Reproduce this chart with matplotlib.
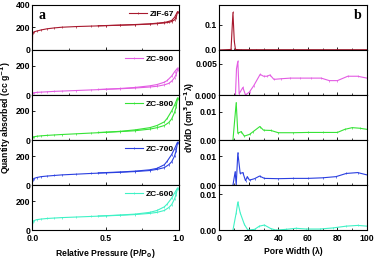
import numpy as np
import matplotlib
matplotlib.use('Agg')
import matplotlib.pyplot as plt
from matplotlib.ticker import MultipleLocator, FormatStrFormatter

plt.rcParams['font.family'] = ['Liberation Sans', 'DejaVu Sans']
plt.rcParams['font.weight'] = 'bold'
plt.rcParams['axes.linewidth'] = 0.8

samples = ['ZIF-67', 'ZC-900', 'ZC-800', 'ZC-700', 'ZC-600']
colors = ['#a8192e', '#e35ce3', '#36e336', '#2a3fe0', '#3ff2c6']

# isotherms (panel a)
p_ads = [0.0, 0.002, 0.01, 0.03, 0.06, 0.1, 0.15, 0.2, 0.3, 0.4, 0.5, 0.6, 0.7,
         0.8, 0.85, 0.9, 0.93, 0.95, 0.97, 0.98, 0.99]
p_des = [0.99, 0.97, 0.95, 0.92, 0.9, 0.85, 0.8, 0.7, 0.6, 0.5, 0.45]
q_ads = {
    'ZIF-67': [0, 150, 160, 168, 178, 188, 196, 202, 208, 212, 216, 220, 224, 230, 234, 240, 246, 252, 268, 285, 335],
    'ZC-900': [0, 12, 15, 18, 20, 22, 25, 27, 31, 35, 39, 43, 48, 55, 60, 70, 80, 95, 120, 140, 175],
    'ZC-800': [0, 18, 22, 26, 29, 32, 35, 38, 43, 48, 53, 58, 64, 75, 85, 100, 120, 145, 190, 225, 285],
    'ZC-700': [0, 35, 45, 52, 58, 62, 66, 70, 75, 80, 84, 88, 93, 100, 108, 120, 140, 160, 200, 235, 290],
    'ZC-600': [0, 55, 65, 72, 76, 80, 83, 86, 90, 94, 98, 102, 107, 115, 122, 135, 155, 175, 215, 245, 285],
}
q_des = {
    'ZIF-67': [340, 290, 262, 250, 245, 238, 232, 226, 221, 217, 215],
    'ZC-900': [185, 160, 130, 100, 88, 72, 63, 52, 45, 40, 38],
    'ZC-800': [290, 240, 200, 150, 125, 100, 85, 70, 60, 54, 52],
    'ZC-700': [295, 250, 210, 165, 140, 115, 105, 96, 90, 86, 84],
    'ZC-600': [290, 255, 220, 180, 160, 135, 122, 110, 104, 99, 97],
}
a_ylim = [400, 310, 310, 310, 310]
a_yticks = [[0, 200, 400], [0, 200], [0, 200], [0, 200], [0, 200]]

# pore size distributions (panel b)
w_zif = [0, 8, 9.3, 10.2, 11, 15, 20, 25, 30, 40, 50, 60, 70, 80, 90, 100]
v_zif = [0, 0.002, 0.15, 0.035, 0.002, 0.001, 0.001, 0.001, 0.001, 0.001, 0.001, 0.001, 0.001, 0.001, 0.001, 0.001]
w_900 = [11, 11.7, 12.6, 13.5, 16, 17.8, 20.5, 23.4, 27.7, 30, 32.4, 34.4, 37, 42, 48, 55, 62, 69, 74.5, 80, 87, 93.7, 100]
v_900 = [0, 0.0042, 0.0054, 0.0002, 0.0012, 0.0, 0.0005, 0.0015, 0.0033, 0.003, 0.003, 0.0032, 0.0025,
         0.0026, 0.0027, 0.0027, 0.0027, 0.0027, 0.0023, 0.0023, 0.003, 0.003, 0.0027]
w_800 = [9.3, 11.5, 12.6, 14.9, 17, 20.5, 23, 27.5, 30, 35, 40, 50, 60, 70, 80, 85, 90, 95, 100]
v_800 = [0, 0.0133, 0.0024, 0.003, 0.0014, 0.002, 0.003, 0.0048, 0.0035, 0.0034, 0.0026, 0.0026, 0.0027,
         0.0027, 0.0027, 0.0038, 0.0044, 0.0042, 0.0038]
w_700 = [9.3, 10.8, 11.5, 12.6, 14.2, 16, 17.8, 19, 20.5, 23.9, 27.3, 30.6, 40, 50, 60, 70, 79, 86, 93.7, 100]
v_700 = [0, 0.0046, 0, 0.0111, 0.004, 0.0043, 0.0015, 0.0029, 0.0017, 0.0022, 0.0031, 0.0023,
         0.0022, 0.0023, 0.0023, 0.0025, 0.0029, 0.004, 0.0043, 0.0035]
w_600 = [9.3, 11.5, 12.6, 14.2, 17, 19.4, 23.9, 27.2, 30.6, 35, 38.5, 45, 52, 59, 68, 77, 86, 93.7, 100]
v_600 = [0, 0.0048, 0.0078, 0.0048, 0.0016, 0, 0.0002, 0.0011, 0.0014, 0.0004, 0, 0.0002, 0.0005,
         0.0003, 0.0003, 0.0006, 0.0011, 0.0013, 0.0011]
psd = [(w_zif, v_zif), (w_900, v_900), (w_800, v_800), (w_700, v_700), (w_600, v_600)]
b_ylim = [0.18, 0.0072, 0.016, 0.0155, 0.0125]
b_yticks = [[0.0, 0.1], [0.000, 0.005], [0.00, 0.01], [0.00, 0.01], [0.00, 0.01]]
b_fmt = ['%.1f', '%.3f', '%.2f', '%.2f', '%.2f']

fig = plt.figure(figsize=(3.76, 2.6), dpi=100)
gs_a = fig.add_gridspec(5, 1, left=0.086, right=0.476, top=0.981, bottom=0.115, hspace=0)
gs_b = fig.add_gridspec(5, 1, left=0.583, right=0.976, top=0.981, bottom=0.115, hspace=0)

fs = 6.2
for i, name in enumerate(samples):
    ax = fig.add_subplot(gs_a[i])
    ax.plot(p_ads, q_ads[name], color=colors[i], lw=0.8, marker='|', ms=2, mew=0.5, label=name)
    ax.plot(p_des, q_des[name], color=colors[i], lw=0.8, marker='|', ms=2, mew=0.5)
    ax.set_xlim(0, 1.0)
    ax.set_ylim(0, a_ylim[i])
    ax.set_yticks(a_yticks[i])
    ax.set_xticks([0.0, 0.5, 1.0])
    ax.xaxis.set_minor_locator(MultipleLocator(0.25))
    ax.xaxis.set_major_formatter(FormatStrFormatter('%.1f'))
    ax.tick_params(direction='in', labelsize=fs, length=2, width=0.6, pad=1.5)
    ax.tick_params(axis='x', pad=3)
    ax.tick_params(which='minor', direction='in', length=1.2, width=0.5)
    if i < 4:
        ax.tick_params(labelbottom=False)
    else:
        ax.set_xlabel('Relative Pressure (P/P$_0$)', fontsize=6.2, fontweight='bold', labelpad=3)
    ax.legend(loc='upper right', frameon=False, fontsize=6, handlelength=2.2,
              handletextpad=0.3, borderaxespad=0.2)
    if i == 0:
        ax.text(0.04, 0.9, 'a', transform=ax.transAxes, fontsize=10, fontweight='bold',
                family='Liberation Serif', va='top')
    if i == 2:
        ax.set_ylabel('Quantity absorbed (cc g$^{-1}$)', fontsize=6.2, fontweight='bold', labelpad=2)

    bx = fig.add_subplot(gs_b[i])
    bx.plot(psd[i][0], psd[i][1], color=colors[i], lw=0.8, marker='|', ms=2, mew=0.5)
    bx.set_xlim(0, 100)
    bx.set_ylim(0, b_ylim[i])
    bx.set_yticks(b_yticks[i])
    bx.yaxis.set_major_formatter(FormatStrFormatter(b_fmt[i]))
    bx.set_xticks([0, 20, 40, 60, 80, 100])
    bx.xaxis.set_minor_locator(MultipleLocator(10))
    bx.tick_params(direction='in', labelsize=fs, length=2, width=0.6, pad=1.5)
    bx.tick_params(axis='x', pad=3)
    bx.tick_params(which='minor', direction='in', length=1.2, width=0.5)
    if i < 4:
        bx.tick_params(labelbottom=False)
    else:
        bx.set_xlabel('Pore Width (λ)', fontsize=6.2, fontweight='bold', labelpad=3)
    if i == 0:
        bx.text(0.96, 0.9, 'b', transform=bx.transAxes, fontsize=10, fontweight='bold',
                family='Liberation Serif', va='top', ha='right')
    if i == 2:
        bx.set_ylabel('dV/dD (cm$^3$g$^{-1}$λ)', fontsize=6.2, fontweight='bold', labelpad=2)

fig.savefig('out.png', dpi=100)
